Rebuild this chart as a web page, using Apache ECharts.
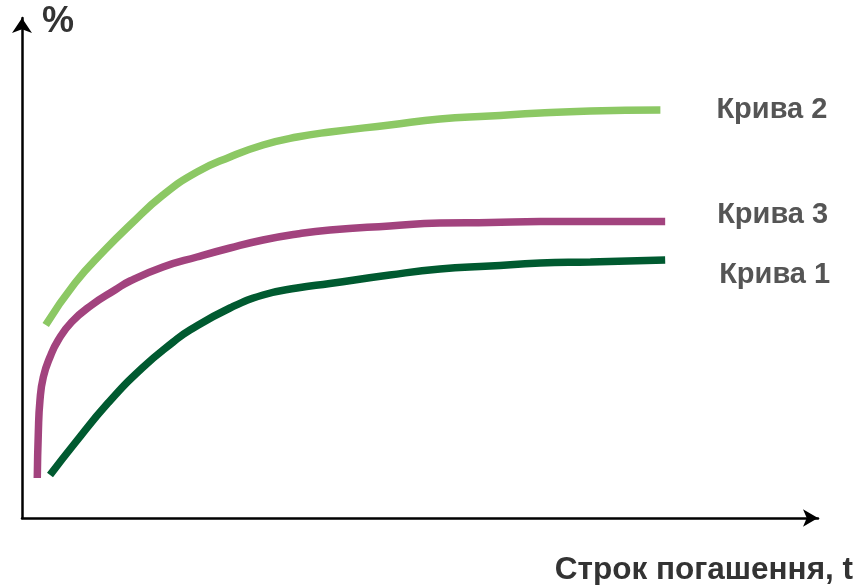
<!DOCTYPE html>
<html>
<head>
<meta charset="utf-8">
<script src="https://cdn.jsdelivr.net/npm/echarts@6/dist/echarts.min.js"></script>
<style>
html,body{margin:0;padding:0;background:#fff;}
#chart{width:859px;height:585px;}
</style>
</head>
<body>
<div id="chart"></div>
<script>
// Curve data: [maturity t, %] (arbitrary units 0..100)
const curve2 = [[2.98,38.6],[6.66,47.0],[10.4,53.6],[13.57,58.6],[17.71,64.6],[21.98,69.2],[26.13,72.2],[30.28,74.6],[34.55,76.2],[38.69,77.2],[46.2,78.6],[52.5,79.8],[58.8,80.4],[65.1,81.0],[71.4,81.4],[80.2,81.6]];
const curve3 = [[1.92,8.0],[2.05,17.0],[2.26,23.6],[2.68,28.2],[3.52,32.2],[4.56,35.6],[6.24,39.2],[8.76,42.6],[11.68,45.6],[13.57,47.4],[17.71,50.2],[21.98,52.2],[26.13,54.0],[30.28,55.6],[34.55,56.8],[38.69,57.6],[46.2,58.4],[52.5,59.0],[58.8,59.1],[65.1,59.3],[80.8,59.3]];
const curve1 = [[3.52,8.6],[6.66,15.0],[10.8,23.0],[15.1,30.0],[19.0,35.2],[21.1,37.6],[26.13,42.0],[30.28,44.6],[34.55,46.0],[38.69,46.9],[46.2,48.6],[52.5,49.8],[58.8,50.4],[65.1,51.0],[71.4,51.2],[80.8,51.6]];
const seriesNames = ['Крива 2','Крива 3','Крива 1'];
const xAxisName = 'Строк погашення, t';
const yAxisName = '%';

const FONT = 'Arial, "Liberation Sans", sans-serif';
const chart = echarts.init(document.getElementById('chart'), null, {renderer:'canvas'});

function lineSeries(name, data, color, offset){
  return {
    type:'line', name:name, data:data, smooth:0.5, showSymbol:false, symbol:'none',
    lineStyle:{color:color, width:7.5, cap:'butt', join:'round'},
    endLabel:{show:true, formatter:'{a}', offset:offset, color:'#555555',
      fontFamily:FONT, fontWeight:'bold', fontSize:29},
    animation:false, z:3
  };
}

chart.setOption({
  backgroundColor:'#ffffff',
  animation:false,
  grid:{left:22, right:41, top:18, bottom:67},
  xAxis:{type:'value', min:0, max:100,
    axisLine:{show:true, lineStyle:{color:'#000', width:2.5}, symbol:['none','arrow'], symbolSize:[13,15]},
    axisTick:{show:false}, axisLabel:{show:false}, splitLine:{show:false}},
  yAxis:{type:'value', min:0, max:100,
    axisLine:{show:true, lineStyle:{color:'#000', width:2.5}, symbol:['none','arrow'], symbolSize:[15,15]},
    axisTick:{show:false}, axisLabel:{show:false}, splitLine:{show:false}},
  graphic:[
    {type:'text', x:42, y:22, style:{text:yAxisName, fill:'#333', font:'bold 36px '+FONT, verticalAlign:'middle', align:'left'}},
    {type:'text', x:853, y:570, style:{text:xAxisName, fill:'#333', font:'bold 31.5px '+FONT, verticalAlign:'middle', align:'right'}}
  ],
  series:[
    lineSeries(seriesNames[0], curve2, '#8CC864', [48,0]),
    lineSeries(seriesNames[1], curve3, '#A2437E', [44,-7]),
    lineSeries(seriesNames[2], curve1, '#005A30', [46,15])
  ]
});
</script>
</body>
</html>
